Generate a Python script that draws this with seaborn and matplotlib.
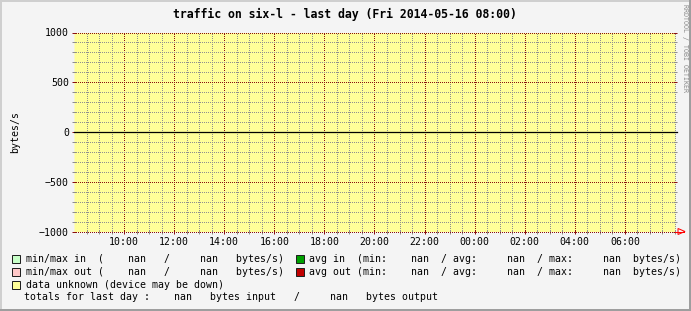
import numpy as np
import pandas as pd
import matplotlib
matplotlib.use("Agg")
import matplotlib.pyplot as plt
from matplotlib.patches import Rectangle, Polygon
from matplotlib.lines import Line2D
import seaborn as sns

# ---------------- data ----------------
title = "traffic on six-l - last day (Fri 2014-05-16 08:00)"
hours = np.arange(8.0, 32.0 + 1e-9, 1 / 12)          # 5-minute samples over the last day (08:00 -> 08:00)
traffic_in = np.full(hours.size, np.nan)              # bytes/s, all unknown
traffic_out = np.full(hours.size, np.nan)             # bytes/s, all unknown
x_major = [10, 12, 14, 16, 18, 20, 22, 24, 26, 28, 30]
x_labels = ["10:00", "12:00", "14:00", "16:00", "18:00", "20:00",
            "22:00", "00:00", "02:00", "04:00", "06:00"]
x_minor = list(np.arange(8.5, 32.01, 0.5))
y_major = [-1000, -500, 0, 500, 1000]
y_labels = ["\u22121000", "\u2212500", "0", "500", "1000"]
y_minor = [v for v in range(-900, 1000, 100) if v % 500 != 0]
inout_minmax_in = [np.nan, np.nan]
inout_minmax_out = [np.nan, np.nan]
avg_in_stats = [np.nan, np.nan, np.nan]
avg_out_stats = [np.nan, np.nan, np.nan]
totals = [np.nan, np.nan]

# ---------------- style ----------------
W, H = 691, 311
BG = "#f4f4f4"
YELLOW = "#ffff99"
MGRID = "#8a1010"
GRID = "#8f8f8f"
MONO = "DejaVu Sans Mono"
FS = 7.15

fig = plt.figure(figsize=(W / 100, H / 100), dpi=100, facecolor=BG)

def fx(x):
    return x / W

def fy(y):
    return 1 - y / H

ax_left, ax_right, ax_top, ax_bot = 74, 675, 32.5, 231.5
ax = fig.add_axes([fx(ax_left), fy(ax_bot), (ax_right - ax_left) / W, (ax_bot - ax_top) / H])
ax.set_facecolor(BG)

df = pd.DataFrame({"hours": hours, "in": traffic_in, "out": traffic_out})
# unknown data area
unknown = df["in"].isna() & df["out"].isna()
ax.fill_between(df["hours"], -1000, 1000, where=unknown, color=YELLOW, lw=0, zorder=0.9, step="mid")
sns.lineplot(data=df, x="hours", y="in", ax=ax, color="#00a000", lw=1)
sns.lineplot(data=df, x="hours", y="out", ax=ax, color="#c00000", lw=1)

ax.set_xlim(8, 32)
ax.set_ylim(-1000, 1000)
ax.set_xlabel("")
ax.set_ylabel("")
for s in ax.spines.values():
    s.set_visible(False)
ax.set_axisbelow(False)

ax.set_xticks(x_major)
ax.set_xticklabels(x_labels, fontfamily=MONO, fontsize=FS)
ax.set_xticks(x_minor, minor=True)
ax.set_yticks(y_major)
ax.set_yticklabels(y_labels, fontfamily=MONO, fontsize=FS)
ax.set_yticks(y_minor, minor=True)

dots = (0, (1, 2))
ax.grid(which="major", color=MGRID, lw=0.72, linestyle=dots)
ax.grid(which="minor", color=GRID, lw=0.72, linestyle=dots)

tl = 4 * 0.72
ax.tick_params(axis="both", which="major", direction="inout", length=tl, width=0.72,
               color=MGRID, labelcolor="black")
ax.tick_params(axis="both", which="minor", direction="inout", length=tl, width=0.72, color=GRID)
ax.tick_params(axis="y", which="both", right=True, pad=2.2)
ax.tick_params(axis="x", which="both", pad=2.6)
for t, v in zip(ax.yaxis.get_major_ticks(), y_major):
    if v == 0:
        t.tick1line.set_color("black")
        t.tick2line.set_color("black")
        t.gridline.set_visible(False)
for axis in (ax.xaxis, ax.yaxis):
    for t in axis.get_major_ticks() + axis.get_minor_ticks():
        t.gridline.set_clip_on(False)
        t.gridline.set_antialiased(False)
        t.tick1line.set_antialiased(False)
        t.tick2line.set_antialiased(False)

ax.axhline(0, color="black", lw=0.9, zorder=3)
fig.add_artist(Line2D([fx(ax_right), fx(677)], [fy(131.9), fy(131.9)], transform=fig.transFigure,
                      color="black", lw=0.9))

# x-axis arrow
fig.add_artist(Line2D([fx(675), fx(684)], [fy(231.5), fy(231.5)], transform=fig.transFigure,
                      color="red", lw=0.72))
fig.add_artist(Polygon([(fx(678), fy(228.5)), (fx(685), fy(231.5)), (fx(678), fy(234.5))],
                       closed=True, fill=False, edgecolor="red", lw=0.72,
                       transform=fig.transFigure))

# title, axis label, watermark
fig.text(fx(345), fy(14.5), title, ha="center", va="center", fontfamily=MONO,
         fontsize=8.3, fontweight="bold")
fig.text(fx(15.5), fy(132), "bytes/s", rotation=90, ha="center", va="center",
         fontfamily=MONO, fontsize=FS)
fig.text(fx(684.5), fy(48.5), "RRDTOOL / TOBI OETIKER", rotation=270, ha="center", va="center",
         fontfamily=MONO, fontsize=4.8, color="#8a8a8a")

# legend
def swatch(x, y, color):
    fig.add_artist(Rectangle((fx(x), fy(y + 4)), 8 / W, 8 / H, transform=fig.transFigure,
                             facecolor=color, edgecolor="#202020", lw=0.72))

rows_y = [259.3, 271.8, 284.5, 297.3]
left_in = "min/max in  ({:7.2f}   /{:8.2f}   bytes/s)".format(*inout_minmax_in)
left_out = "min/max out ({:7.2f}   /{:8.2f}   bytes/s)".format(*inout_minmax_out)
right_in = "avg in  (min:{:7.2f}  / avg:{:8.2f}  / max:{:8.2f}  bytes/s)".format(*avg_in_stats)
right_out = "avg out (min:{:7.2f}  / avg:{:8.2f}  / max:{:8.2f}  bytes/s)".format(*avg_out_stats)
unknown_txt = "data unknown (device may be down)"
totals_txt = "totals for last day :{:7.2f}   bytes input   /{:8.2f}   bytes output".format(*totals)

swatch(12, rows_y[0], "#c8ffc8")
swatch(12, rows_y[1], "#ffc8c8")
swatch(12, rows_y[2], YELLOW)
swatch(295.5, rows_y[0], "#00a000")
swatch(295.5, rows_y[1], "#c00000")
for x, y, s in [(26, rows_y[0], left_in), (26, rows_y[1], left_out),
                (308.7, rows_y[0], right_in), (308.7, rows_y[1], right_out),
                (26, rows_y[2], unknown_txt), (24.4, rows_y[3], totals_txt)]:
    fig.text(fx(x), fy(y), s, ha="left", va="center", fontfamily=MONO, fontsize=FS)

# bevelled frame
fig.add_artist(Rectangle((0, fy(2)), 1, 2 / H, transform=fig.transFigure, color="#cfcfcf", lw=0))
fig.add_artist(Rectangle((0, 0), 2 / W, 1, transform=fig.transFigure, color="#cfcfcf", lw=0))
fig.add_artist(Rectangle((fx(689), 0), 2 / W, 1, transform=fig.transFigure, color="#9e9e9e", lw=0))
fig.add_artist(Rectangle((0, 0), 1, 2 / H, transform=fig.transFigure, color="#9e9e9e", lw=0))

fig.savefig("out.png", dpi=100, facecolor=BG)
